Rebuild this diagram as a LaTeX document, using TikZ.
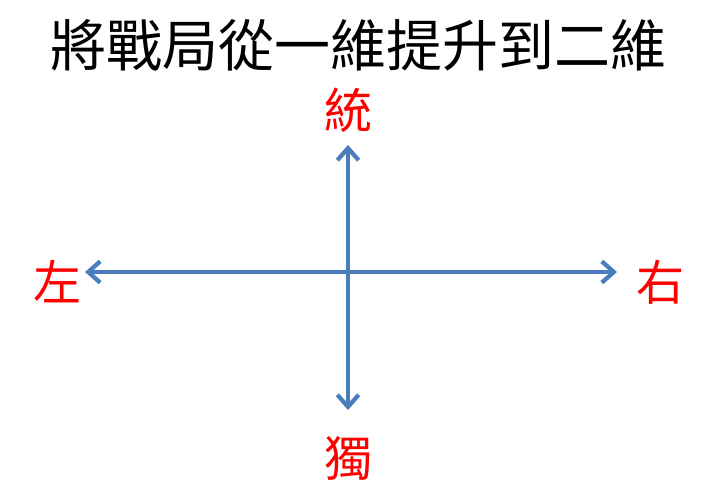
\documentclass[tikz,border=0pt]{standalone}
\usepackage{fontspec}
\newfontfamily\cjk{Noto Sans CJK TC}
\usetikzlibrary{arrows.meta}
\definecolor{axisblue}{RGB}{74,126,187}
\tikzset{
  axis/.style={draw=axisblue, line width=3.2pt, {Straight Barb[length=9pt,width=16pt]}-{Straight Barb[length=9pt,width=16pt]}},
  pole/.style={inner sep=0pt, text=red, font=\cjk\fontsize{36}{40}\selectfont}
}
\begin{document}
\begin{tikzpicture}[x=0.75pt,y=0.75pt,yscale=-1,xscale=1]
\useasboundingbox (0,0) rectangle (720,500);

% Title
\node (title) [inner sep=0pt, font=\cjk\fontsize{42}{46}\selectfont] at (358,45) {將戰局從一維提升到二維};

% Pole labels
\node (up) [pole] at (348,110) {統};
\node (down) [pole] at (348,458) {獨};
\node (left) [pole] at (57,282) {左};
\node (right) [pole] at (660,282) {右};

% Axes
\coordinate (ltip) at (85,272);
\coordinate (rtip) at (617,272);
\coordinate (utip) at (348,145);
\coordinate (dtip) at (348,410);
\draw [axis] (ltip) -- (rtip);
\draw [axis] (utip) -- (dtip);

\end{tikzpicture}
\end{document}
